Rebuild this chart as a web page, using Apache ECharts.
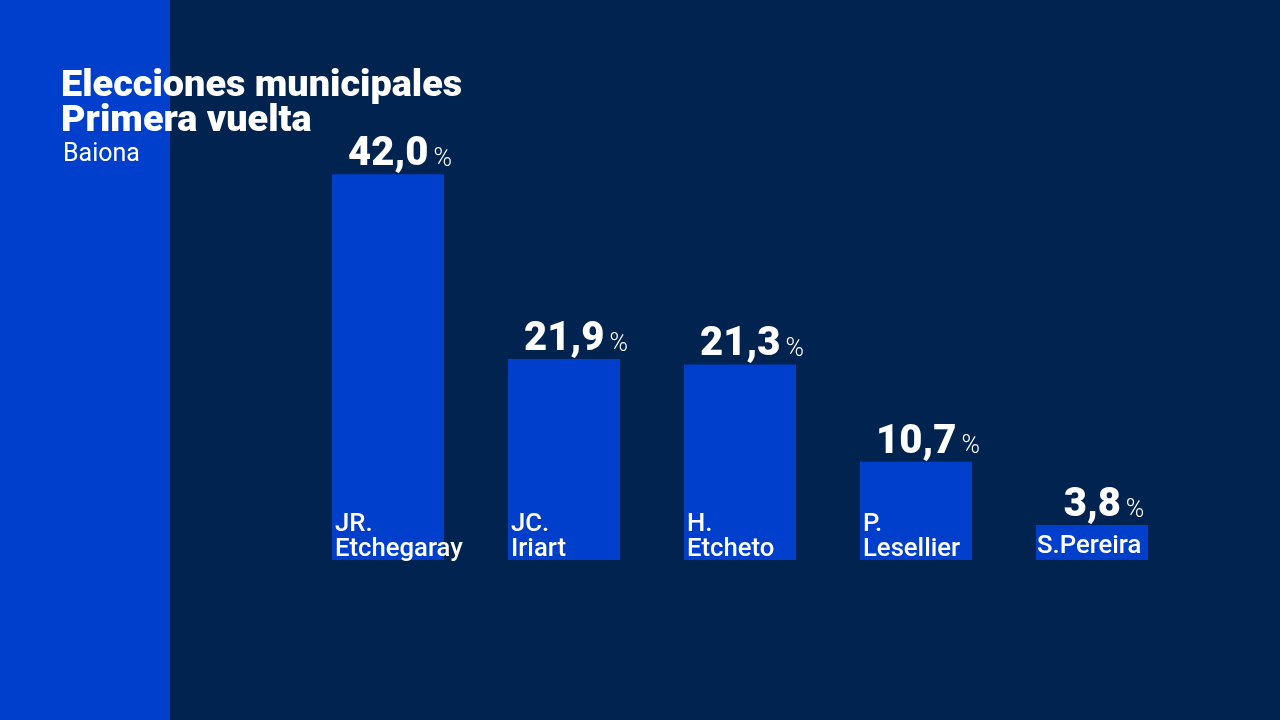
<!DOCTYPE html>
<html>
<head>
<meta charset="utf-8">
<title>Elecciones municipales</title>
<style>
  html, body { margin: 0; padding: 0; background: #01234f; }
  #chart { width: 1280px; height: 720px; }
</style>
<script src="https://cdn.jsdelivr.net/npm/echarts@6/dist/echarts.min.js"></script>
</head>
<body>
<div id="chart"></div>
<script>
var categories = ['JR.\nEtchegaray', 'JC.\nIriart', 'H.\nEtcheto', 'P.\nLesellier', 'S.Pereira'];
var values = [42.0, 21.9, 21.3, 10.7, 3.8];
var valueLabels = ['42,0', '21,9', '21,3', '10,7', '3,8'];

var BLUE = '#003fcc';
var NAVY = '#01234f';

var chart = echarts.init(document.getElementById('chart'));
chart.setOption({
  backgroundColor: NAVY,
  animation: false,
  textStyle: { fontFamily: 'Roboto' },
  // bande bleue a gauche
  graphic: [
    {
      type: 'rect',
      z: -1,
      shape: { x: 0, y: 0, width: 170, height: 720 },
      style: { fill: BLUE }
    },
    {
      type: 'text',
      z: 10,
      left: 63,
      top: 142,
      style: { text: 'Baiona', fill: '#fff', font: '400 25px Roboto' }
    }
  ],
  title: {
    left: 61,
    top: 69,
    z: 10,
    text: 'Elecciones municipales\nPrimera vuelta',
    textStyle: { color: '#fff', fontFamily: 'Roboto', fontWeight: 900, fontSize: 37.8, lineHeight: 35 },
    padding: 0
  },
  grid: { left: 300, width: 880, top: 9, height: 551 },
  xAxis: {
    type: 'category',
    data: categories,
    axisLine: { show: false },
    axisTick: { show: false },
    axisLabel: { show: false }
  },
  yAxis: {
    type: 'value',
    min: 0,
    max: 60,
    show: false
  },
  series: [
    {
      type: 'bar',
      data: values,
      barWidth: 112,
      itemStyle: { color: BLUE },
      label: {
        show: true,
        position: 'top',
        distance: 0,
        offset: [12, 1],
        formatter: function (p) {
          return '{num|' + valueLabels[p.dataIndex] + '} {pct|%}';
        },
        rich: {
          num: { color: '#fff', fontFamily: 'Roboto', fontWeight: 900, fontSize: 40 },
          pct: { color: '#fff', fontFamily: 'Roboto', fontWeight: 300, fontSize: 25, padding: [9, 0, 0, 2] }
        }
      }
    },
    {
      // noms des candidats, en bas de chaque barre
      type: 'bar',
      data: values.map(function (v, i) {
        // S.Pereira tient sur une ligne, un peu plus haut
        return i === 4 ? { value: v, label: { offset: [1, -1] } } : v;
      }),
      barWidth: 112,
      barGap: '-100%',
      itemStyle: { color: 'transparent' },
      label: {
        show: true,
        position: 'insideBottomLeft',
        distance: 0,
        offset: [3, 2],
        formatter: '{b}',
        color: '#fff',
        fontFamily: 'Roboto',
        fontWeight: 500,
        fontSize: 25.7,
        lineHeight: 25
      }
    }
  ]
});
</script>
</body>
</html>
